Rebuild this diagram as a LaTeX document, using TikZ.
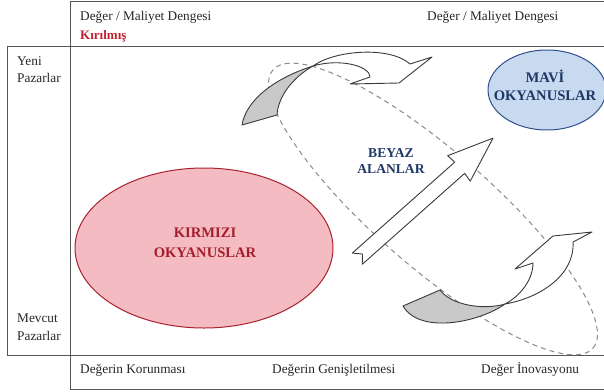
\documentclass[tikz,border=0pt]{standalone}
\usepackage{fontspec}
\setmainfont{Liberation Serif}
\usetikzlibrary{shapes.geometric}

\definecolor{framegray}{HTML}{555555}
\definecolor{redfill}{HTML}{F4BCC2}
\definecolor{redline}{HTML}{A8222E}
\definecolor{redtext}{HTML}{A51F2B}
\definecolor{brokenred}{HTML}{C0202E}
\definecolor{bluefill}{HTML}{C7DAF0}
\definecolor{blueline}{HTML}{2F4F8C}
\definecolor{bluetext}{HTML}{1F3766}
\definecolor{tailgray}{HTML}{C9C9C9}
\definecolor{arrowline}{HTML}{3A3A3A}
\definecolor{dashgray}{HTML}{8A8A8A}

\begin{document}
\begin{tikzpicture}[x=1pt,y=-1pt,
  frameline/.style={draw=framegray, line width=0.9pt},
  axislabel/.style={font=\fontsize{13.3}{16}\selectfont, inner sep=0pt, anchor=base west, text=black!85},
  oceanlabel/.style={font=\bfseries\fontsize{14.6}{18}\selectfont, inner sep=0pt, anchor=base},
  blockarrow/.style={draw=arrowline, line width=0.9pt, line join=round},
  tailpart/.style={blockarrow, fill=tailgray},
  headpart/.style={blockarrow, fill=white},
  zone/.style={draw=dashgray, line width=1pt, dash pattern=on 5pt off 4pt}
]
\useasboundingbox (0,0) rectangle (604,391);
\clip (0,0) rectangle (604,391);

% frame of the strategy canvas
\draw[frameline] (70,389) -- (70,1) -- (606,1);
\draw[frameline] (606,46) -- (7,46) -- (7,355) -- (606,355);
\draw[frameline] (70,389) -- (606,389);

% white-space zone
\begin{scope}[shift={(433,209)}, rotate=-41]
  \draw[zone] (0,0) ellipse [x radius=212pt, y radius=58pt];
\end{scope}

% red and blue oceans
\node[ellipse, draw=redline, fill=redfill, line width=1pt,
      minimum width=258pt, minimum height=160pt, inner sep=0pt] (red) at (204,248) {};
\node[ellipse, draw=blueline, fill=bluefill, line width=1pt,
      minimum width=118pt, minimum height=80pt, inner sep=0pt] (blue) at (547,90) {};

% upper twisted arrow: grey tail, white head
\path[tailpart] (242,125) -- (277,115)
   .. controls (278,97) and (292,78) .. (313,66)
   .. controls (275,78) and (246,100) .. (242,125) -- cycle;
\path[headpart] (313,66)
   .. controls (335,50) and (390,46) .. (410,64)
   -- (432,57) -- (399,83) -- (350,84) -- (370,77)
   .. controls (370,66) and (340,58) .. (313,66) -- cycle;

% lower twisted arrow: grey tail, white head
\path[tailpart] (403,306) -- (440,290)
   .. controls (452,306) and (485,310) .. (505,304)
   .. controls (480,322) and (420,335) .. (403,306) -- cycle;
\path[headpart] (505,304)
   .. controls (540,298) and (575,275) .. (573,242)
   -- (592,232) -- (553,236) -- (515,269) -- (533,263)
   .. controls (533,280) and (520,296) .. (505,304) -- cycle;

% straight arrow across the white space
\begin{scope}[shift={(359.5,256.7)}, rotate=41.6]
  \path[headpart] (-3,7.5) -- (134,7.5) -- (133,17) -- (178.6,0)
     -- (133,-17) -- (134,-7.5) -- (-3,-7.5) -- (4,0) -- cycle;
\end{scope}

% ocean labels
\node[oceanlabel, text=redtext] (redA) at (205,237) {KIRMIZI};
\node[oceanlabel, text=redtext] (redB) at (205,257) {OKYANUSLAR};
\node[oceanlabel, text=bluetext] (blueA) at (545,82) {MAVİ};
\node[oceanlabel, text=bluetext] (blueB) at (545,100) {OKYANUSLAR};
\node[oceanlabel, text=bluetext, font=\bfseries\fontsize{13.6}{17}\selectfont] (whiteA) at (391,157) {BEYAZ};
\node[oceanlabel, text=bluetext, font=\bfseries\fontsize{13.6}{17}\selectfont] (whiteB) at (391,173) {ALANLAR};

% top axis labels
\node[axislabel] (balL) at (80,20) {Değer / Maliyet Dengesi};
\node[axislabel, font=\bfseries\fontsize{13}{16}\selectfont, text=brokenred] (broken) at (80,39) {Kırılmış};
\node[axislabel] (balR) at (427,20) {Değer / Maliyet Dengesi};

% bottom axis labels
\node[axislabel] (keep) at (80,373) {Değerin Korunması};
\node[axislabel] (extend) at (272,373) {Değerin Genişletilmesi};
\node[axislabel] (innov) at (481,373) {Değer İnovasyonu};

% side axis labels
\node[axislabel] (newA) at (17,65) {Yeni};
\node[axislabel] (newB) at (17,82) {Pazarlar};
\node[axislabel] (curA) at (17,322) {Mevcut};
\node[axislabel] (curB) at (17,340) {Pazarlar};
\end{tikzpicture}
\end{document}
